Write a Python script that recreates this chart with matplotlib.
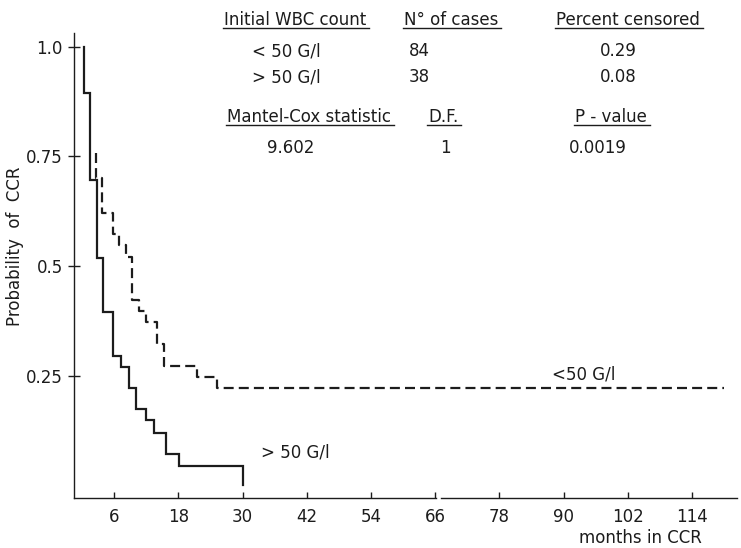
import numpy as np
import matplotlib
matplotlib.use("Agg")
import matplotlib.pyplot as plt
from matplotlib.lines import Line2D

# Kaplan-Meier estimates, probability of continuous complete remission (CCR)
# initial WBC count > 50 G/l (solid line)
gt50_months = [0.3, 0.3, 1.5, 2.8, 4.0, 5.7, 7.3, 8.7, 10.1, 11.9, 13.4, 15.7, 18.1, 30.0]
gt50_prob = [1.0, 0.895, 0.696, 0.518, 0.394, 0.295, 0.269, 0.221, 0.174, 0.149,
             0.120, 0.072, 0.044, 0.0]

# initial WBC count < 50 G/l (dashed line)
lt50_months = [2.6, 2.6, 3.7, 5.8, 7.0, 8.2, 9.4, 10.7, 11.9, 14.0, 15.4, 21.5, 25.3, 120.0]
lt50_prob = [0.758, 0.70, 0.621, 0.573, 0.547, 0.520, 0.423, 0.398, 0.372, 0.323,
             0.273, 0.247, 0.221, 0.221]

x_ticks = [6, 18, 30, 42, 54, 66, 78, 90, 102, 114]
y_ticks = [0.25, 0.5, 0.75, 1.0]
y_ticklabels = ["0.25", "0.5", "0.75", "1.0"]
x_break = 66

# summary table
wbc_groups = ["< 50 G/l", "> 50 G/l"]
n_cases = [84, 38]
pct_censored = ["0.29", "0.08"]
mantel_cox = "9.602"
deg_freedom = "1"
p_value = "0.0019"

ink = "#1c1c1c"
W, H = 741, 548
plt.rcParams["font.family"] = "DejaVu Sans"
plt.rcParams["font.size"] = 12

fig = plt.figure(figsize=(W / 100, H / 100), dpi=100)
fig.patch.set_facecolor("white")


def fx(px):
    return px / W


def fy(py):
    return 1 - py / H


ax = fig.add_axes([fx(74), fy(498), fx(663), 465 / H])
ax.set_xlim(-1.5, 122.4)
ax.set_ylim(-0.029, 1.031)

ax.plot(gt50_months, gt50_prob, drawstyle="steps-post", color=ink, lw=1.6,
        solid_joinstyle="miter")
ax.plot(lt50_months, lt50_prob, drawstyle="steps-post", color=ink, lw=1.6,
        dashes=(4.5, 2.3))

ax.text(87.8, 0.252, "<50 G/l", color=ink, fontsize=12, va="center")
ax.text(33.5, 0.074, "> 50 G/l", color=ink, fontsize=12, va="center")

# axes: left spine plus a broken bottom axis at 66 months
for s in ["top", "right", "bottom"]:
    ax.spines[s].set_visible(False)
ax.spines["left"].set_color(ink)
ax.spines["left"].set_linewidth(1.0)
trans = ax.get_xaxis_transform()
xl = ax.get_xlim()
ax.plot([xl[0], x_break + 0.2], [0, 0], transform=trans, color=ink, lw=1.0, clip_on=False)
ax.plot([x_break + 1.0, xl[1]], [0, 0], transform=trans, color=ink, lw=1.0, clip_on=False)

ax.set_xticks(x_ticks)
ax.set_xticklabels([str(v) for v in x_ticks])
ax.set_yticks(y_ticks)
ax.set_yticklabels(y_ticklabels)
ax.tick_params(axis="x", direction="in", length=4, width=1, color=ink, labelcolor=ink,
               pad=7, labelsize=12)
ax.tick_params(axis="y", direction="inout", length=8, width=1, color=ink, labelcolor=ink,
               pad=4, labelsize=12)

ax.set_xlabel("months in CCR", color=ink, fontsize=12, ha="right", va="center")
ax.xaxis.set_label_coords((702 - 74) / 663, (498 - 538) / 465)
ax.set_ylabel("Probability  of  CCR", color=ink, fontsize=12, va="center")
ax.yaxis.set_label_coords((15 - 74) / 663, (498 - 246) / 465)

# table above the curves
headers = [("Initial WBC count", 295), ("N° of cases", 451), ("Percent censored", 628)]
test_headers = [("Mantel-Cox statistic", 309), ("D.F.", 443), ("P - value", 611)]

underlined = []
for label, cx in headers:
    underlined.append((fig.text(fx(cx), fy(25), label, ha="center", va="baseline", color=ink), 28))
for label, cx in test_headers:
    underlined.append((fig.text(fx(cx), fy(122), label, ha="center", va="baseline", color=ink), 125))

for i, grp in enumerate(wbc_groups):
    base = [56, 82][i]
    fig.text(fx(286), fy(base), grp, ha="center", va="baseline", color=ink)
    fig.text(fx(419), fy(base), str(n_cases[i]), ha="center", va="baseline", color=ink)
    fig.text(fx(618), fy(base), pct_censored[i], ha="center", va="baseline", color=ink)

fig.text(fx(291), fy(153), mantel_cox, ha="center", va="baseline", color=ink)
fig.text(fx(445), fy(153), deg_freedom, ha="center", va="baseline", color=ink)
fig.text(fx(598), fy(153), p_value, ha="center", va="baseline", color=ink)

fig.canvas.draw()
r = fig.canvas.get_renderer()
for t, uy in underlined:
    bb = t.get_window_extent(r)
    fig.add_artist(Line2D([fx(bb.x0 - 1), fx(bb.x1 + 3)], [fy(uy), fy(uy)],
                          color=ink, lw=1.0))

fig.savefig("out.png", dpi=100, facecolor="white")
